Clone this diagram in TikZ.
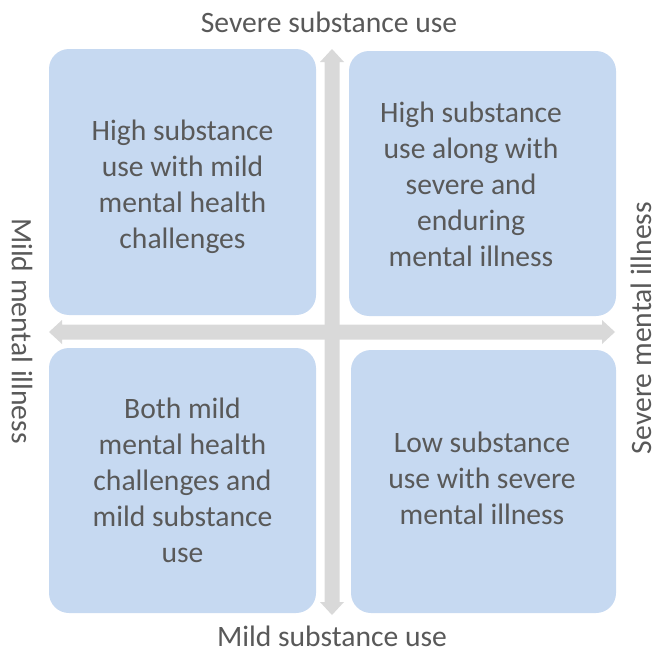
\documentclass[tikz,border=0pt]{standalone}
\usepackage{fontspec}
\setmainfont{Carlito}
\begin{document}
\begin{tikzpicture}[x=1pt,y=-1pt,
  quad/.style={fill=boxblue, rounded corners=20pt},
  quadtext/.style={text=txtgray, align=center, font=\fontsize{29.6}{36}\selectfont},
  axislabel/.style={text=txtgray, inner sep=0pt, font=\fontsize{29.6}{36}\selectfont},
  blockarrow/.style={fill=arrowgray}]
\definecolor{boxblue}{HTML}{C6D9F1}
\definecolor{arrowgray}{HTML}{D9D9D9}
\definecolor{txtgray}{HTML}{595959}
\useasboundingbox (0,0) rectangle (657,653);

% four quadrants
\fill[quad] (49,49) rectangle (316,315);
\fill[quad] (349,51) rectangle (616,316);
\fill[quad] (49,348) rectangle (316,613);
\fill[quad] (351,350) rectangle (616,613);

% double-headed block arrows (axes)
\fill[blockarrow] (332,49) -- (344,62) -- (339.5,62) -- (339.5,602) -- (344,602)
  -- (332,615) -- (320,602) -- (324.5,602) -- (324.5,62) -- (320,62) -- cycle;
\fill[blockarrow] (49,332) -- (62,320) -- (62,324.5) -- (602,324.5) -- (602,320)
  -- (615,332) -- (602,344) -- (602,339.5) -- (62,339.5) -- (62,344) -- cycle;

% quadrant texts
\node[quadtext] (tl) at (182.5,187) {High substance\\use with mild\\mental health\\challenges};
\node[quadtext] (tr) at (471,184) {High substance\\use along with\\severe and\\enduring\\mental illness};
\node[quadtext] (bl) at (182.5,480) {Both mild\\mental health\\challenges and\\mild substance\\use};
\node[quadtext] (br) at (482,478) {Low substance\\use with severe\\mental illness};

% axis labels
\node[axislabel] (top) at (329,22) {Severe substance use};
\node[axislabel] (bottom) at (332,636) {Mild substance use};
\node[axislabel, rotate=-90] (left) at (22,331) {Mild mental illness};
\node[axislabel, rotate=90] (right) at (641,328) {Severe mental illness};
\end{tikzpicture}
\end{document}
